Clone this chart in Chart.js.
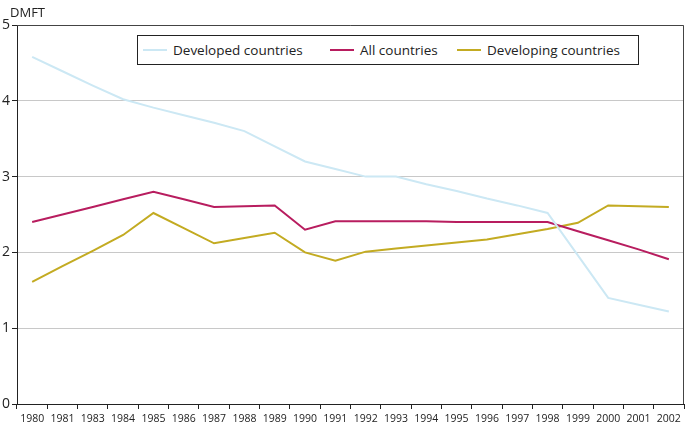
<!DOCTYPE html>
<html>
<head>
<meta charset="utf-8">
<script src="https://cdn.jsdelivr.net/npm/chart.js@4.4.1/dist/chart.umd.min.js"></script>
<style>
  html, body { margin: 0; padding: 0; background: #fff; }
  #wrap { position: relative; width: 685px; height: 428px; font-family: "Open Sans", sans-serif; color: #222; }
  #yTitle { position: absolute; left: 10px; top: 3px; font-size: 13px; }
  #legend { position: absolute; left: 137px; top: 35px; width: 500px; height: 28px; border: 1px solid #222; background: #fff; }
  .item { position: absolute; top: 0; height: 28px; display: flex; align-items: center; font-size: 13.5px; white-space: nowrap; }
  .swatch { width: 24px; height: 2px; margin-right: 6px; }
</style>
</head>
<body>
<div id="wrap">
  <canvas id="dmftChart" width="685" height="428"></canvas>
  <div id="yTitle">DMFT</div>
  <div id="legend"></div>
</div>
<script>
// Data
const years = ['1980', '1981', '1983', '1984', '1985', '1986', '1987', '1988', '1989', '1990', '1991',
               '1992', '1993', '1994', '1995', '1996', '1997', '1998', '1999', '2000', '2001', '2002'];

const developed = [4.58, 4.39, 4.20, 4.02, 3.91, 3.81, 3.71, 3.60, 3.40, 3.20, 3.10,
                   3.00, 3.00, 2.90, 2.81, 2.71, 2.62, 2.52, 1.96, 1.40, 1.31, 1.22];

const allCountries = [2.40, 2.50, 2.60, 2.70, 2.80, 2.70, 2.60, 2.61, 2.62, 2.30, 2.41,
                      2.41, 2.41, 2.41, 2.40, 2.40, 2.40, 2.40, 2.28, 2.16, 2.04, 1.91];

const developing = [1.61, 1.82, 2.02, 2.23, 2.52, 2.32, 2.12, 2.19, 2.26, 2.00, 1.89,
                    2.01, 2.05, 2.09, 2.13, 2.17, 2.24, 2.31, 2.39, 2.62, 2.61, 2.60];

const yTicks = [0, 1, 2, 3, 4, 5];

const seriesInfo = [
    { label: 'Developed countries', data: developed, color: '#cce8f4', left: 5 },
    { label: 'All countries', data: allCountries, color: '#b81d5f', left: 192 },
    { label: 'Developing countries', data: developing, color: '#c3ab22', left: 319 }
];

const FONT = '"Open Sans", sans-serif';

// HTML legend in a boxed frame
const legendEl = document.getElementById('legend');
seriesInfo.forEach(s => {
    const item = document.createElement('div');
    item.className = 'item';
    item.style.left = s.left + 'px';
    item.innerHTML = `<span class="swatch" style="background:${s.color}"></span><span>${s.label}</span>`;
    legendEl.appendChild(item);
});

// Top and right frame of the plot area
const frame = {
    id: 'frame',
    afterDraw(chart) {
        const { ctx, chartArea: a } = chart;
        ctx.save();
        ctx.strokeStyle = '#444';
        ctx.lineWidth = 1;
        ctx.beginPath();
        ctx.moveTo(a.left, a.top + 0.5);
        ctx.lineTo(a.right - 0.5, a.top + 0.5);
        ctx.lineTo(a.right - 0.5, a.bottom);
        ctx.stroke();
        ctx.restore();
    }
};

const ctx = document.getElementById('dmftChart').getContext('2d');
new Chart(ctx, {
    type: 'line',
    data: {
        labels: years,
        datasets: seriesInfo.map(s => ({
            label: s.label,
            data: s.data,
            borderColor: s.color,
            borderWidth: 2,
            pointRadius: 0,
            tension: 0,
            fill: false
        }))
    },
    options: {
        responsive: false,
        animation: false,
        layout: { padding: { top: 25, right: 1, left: 0, bottom: 0 } },
        plugins: {
            legend: { display: false },
            tooltip: { enabled: false }
        },
        scales: {
            x: {
                offset: true,
                grid: { offset: true, drawOnChartArea: false, drawTicks: true, tickLength: 5, tickColor: '#222' },
                border: { color: '#222', width: 1 },
                ticks: { color: '#222', font: { family: FONT, size: 10.5 }, padding: 4, maxRotation: 0, autoSkip: false },
                afterFit: scale => { scale.height = 24; }
            },
            y: {
                min: 0,
                max: 5,
                afterBuildTicks: scale => { scale.ticks = yTicks.map(v => ({ value: v })); },
                grid: { color: '#c8c8c8', lineWidth: 1, tickLength: 5, tickColor: '#222' },
                border: { color: '#222', width: 1 },
                ticks: { color: '#222', font: { family: FONT, size: 14 }, padding: 2 },
                afterFit: scale => { scale.width = 17; }
            }
        }
    },
    plugins: [frame]
});
</script>
</body>
</html>
